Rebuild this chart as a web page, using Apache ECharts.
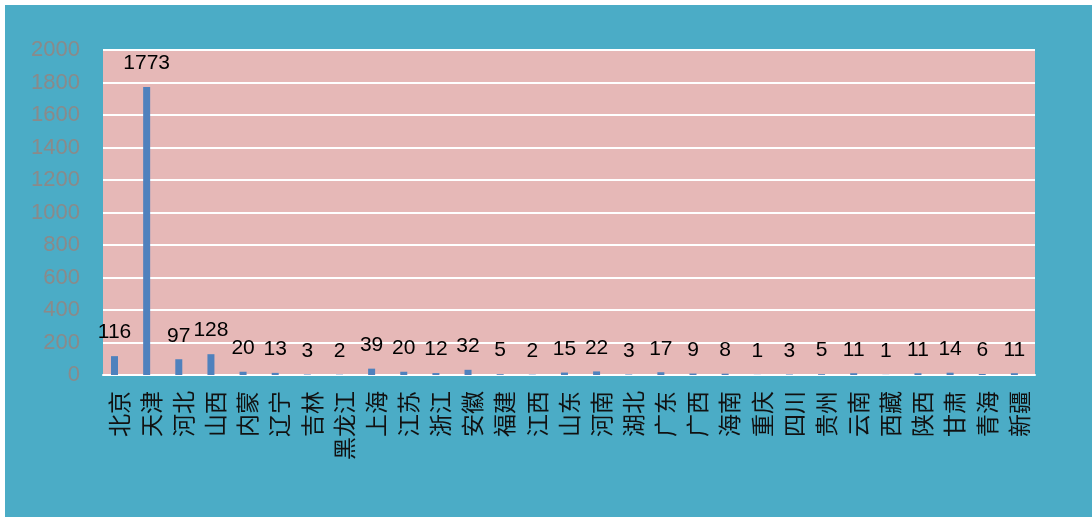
<!DOCTYPE html>
<html>
<head>
<meta charset="utf-8">
<script src="https://cdn.jsdelivr.net/npm/echarts@6/dist/echarts.min.js"></script>
<style>
  html, body { margin: 0; padding: 0; background: #fff; }
  #chart { position: absolute; left: 5px; top: 5px; width: 1087px; height: 512px; }
</style>
</head>
<body>
<div id="chart"></div>
<script>
// 省份及数值
let provinces = ['北京', '天津', '河北', '山西', '内蒙', '辽宁', '吉林', '黑龙江', '上海', '江苏',
    '浙江', '安徽', '福建', '江西', '山东', '河南', '湖北', '广东', '广西', '海南',
    '重庆', '四川', '贵州', '云南', '西藏', '陕西', '甘肃', '青海', '新疆'];
let counts = [116, 1773, 97, 128, 20, 13, 3, 2, 39, 20,
    12, 32, 5, 2, 15, 22, 3, 17, 9, 8,
    1, 3, 5, 11, 1, 11, 14, 6, 11];
let y_ticks = [0, 200, 400, 600, 800, 1000, 1200, 1400, 1600, 1800, 2000];

let chart = echarts.init(document.getElementById('chart'));

chart.setOption({
    backgroundColor: '#4bacc6',
    animation: false,
    grid: {
        left: 98,
        right: 57,
        top: 45,
        bottom: 142,
        show: true,
        backgroundColor: '#e6b8b7',
        borderWidth: 0
    },
    xAxis: {
        type: 'category',
        data: provinces,
        axisLine: { show: true, lineStyle: { color: '#ffffff', width: 2 } },
        axisTick: { show: false },
        axisLabel: {
            interval: 0,
            rotate: 90,
            margin: 16,
            color: '#111',
            fontSize: 23,
            fontFamily: 'Noto Sans CJK SC'
        }
    },
    yAxis: {
        type: 'value',
        min: y_ticks[0],
        max: y_ticks[y_ticks.length - 1],
        interval: 200,
        axisLine: { show: false },
        axisTick: { show: false },
        splitLine: { lineStyle: { color: '#ffffff', width: 2 } },
        axisLabel: {
            margin: 23,
            color: '#8a8a8a',
            fontSize: 22,
            fontFamily: 'Liberation Sans',
            formatter: function (v) { return String(v); }
        }
    },
    series: [
        {
            type: 'bar',
            data: counts,
            barWidth: 7,
            barGap: '30%',
            itemStyle: { color: '#4f81bd' },
            label: {
                show: true,
                position: 'top',
                distance: 13,
                color: '#000',
                fontSize: 21,
                fontFamily: 'Liberation Sans'
            }
        },
        {
            // 空系列，占位
            type: 'bar',
            data: [],
            barWidth: 7
        }
    ]
});
</script>
</body>
</html>
